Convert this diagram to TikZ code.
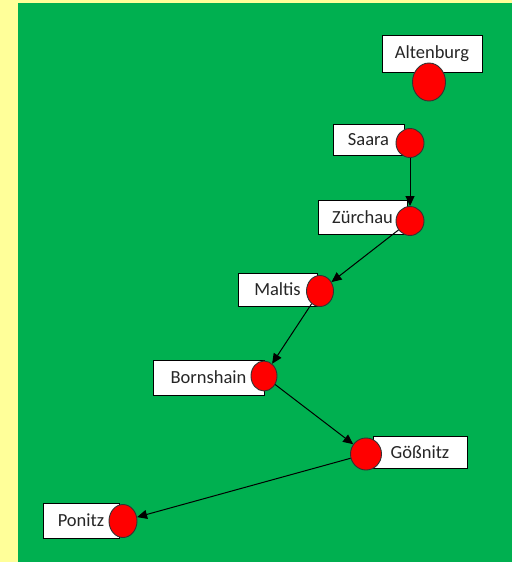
\documentclass[tikz,border=0pt]{standalone}
\usepackage{fontspec}
\setmainfont{Carlito}
\usetikzlibrary{shapes.geometric, arrows.meta, positioning}
\usepackage{xcolor}
\definecolor{pagecolor}{RGB}{255,255,153}
\definecolor{fieldcolor}{RGB}{0,176,80}
\definecolor{dotcolor}{RGB}{255,0,0}
\definecolor{bordercolor}{RGB}{0,0,0}

\begin{document}
\begin{tikzpicture}[x=1pt, y=-1pt,
  % Node styles
  placebox/.style={
    rectangle,
    draw=bordercolor,
    line width=0.9pt,
    fill=white,
    inner sep=0pt,
    text=black!85,
    font=\fontsize{18.5}{21}\selectfont
  },
  stopdot/.style={
    ellipse,
    draw=black!80,
    line width=0.9pt,
    fill=dotcolor,
    inner sep=0pt
  },
  route/.style={
    -{Triangle[length=10pt, width=9pt]},
    line width=1pt,
    draw=black
  }
]

% ===== BACKGROUND =====
\useasboundingbox (0,0) rectangle (512,562);
\fill[pagecolor] (0,0) rectangle (512,562);
\fill[fieldcolor] (18,3) rectangle (512,562);

% ===== PLACES =====
\node[placebox, minimum width=100pt, minimum height=37pt] (alt) at (432,53.5) {Altenburg};
\node[stopdot, minimum width=33pt, minimum height=38pt] (altdot) at (429,82) {};

\node[placebox, minimum width=71pt, minimum height=31pt] (saa) at (368.5,139.5) {Saara};
\node[stopdot, minimum width=28pt, minimum height=29pt] (saadot) at (410,143) {};

\node[placebox, minimum width=89pt, minimum height=34pt] (zue) at (362.5,217) {Zürchau};
\node[stopdot, minimum width=28pt, minimum height=29pt] (zuedot) at (410,221) {};

\node[placebox, minimum width=79pt, minimum height=33pt] (mal) at (277.5,289.5) {Maltis};
\node[stopdot, minimum width=27pt, minimum height=31pt] (maldot) at (320,291) {};

\node[placebox, minimum width=111pt, minimum height=35pt] (bor) at (208.5,377.5) {Bornshain};
\node[stopdot, minimum width=26pt, minimum height=30pt] (bordot) at (264,376) {};

\node[placebox, minimum width=94pt, minimum height=32pt] (goe) at (420,452) {Gößnitz};
\node[stopdot, minimum width=31pt, minimum height=32pt] (goedot) at (366,454) {};

\node[placebox, minimum width=76pt, minimum height=35pt] (pon) at (81,520.5) {Ponitz};
\node[stopdot, minimum width=28pt, minimum height=33pt] (pondot) at (123,521) {};

% ===== ARROWS: route =====
\draw[route] (saadot) -- (zuedot);
\draw[route] (zuedot) -- (maldot);
\draw[route] (maldot) -- (bordot);
\draw[route] (bordot) -- (goedot);
\draw[route] (goedot) -- (pondot);

\end{tikzpicture}
\end{document}
